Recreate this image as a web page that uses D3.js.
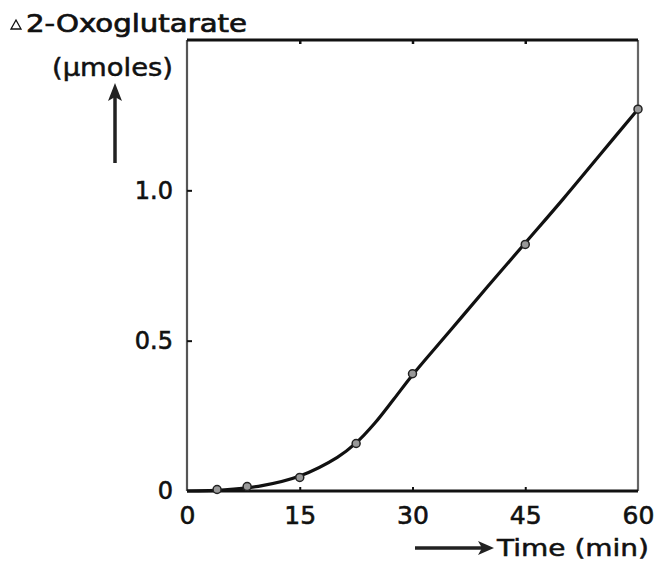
<!DOCTYPE html>
<html>
<head>
<meta charset="utf-8">
<script src="https://cdn.jsdelivr.net/npm/d3@7"></script>
<style>
  body { margin: 0; background: #fff; }
  text { font-family: "DejaVu Sans", sans-serif; fill: #111; }
</style>
</head>
<body>
<div id="chart"></div>
<script>
// measured points
const times = [4, 8, 15, 22.5, 30, 45, 60]
const oxo = [0.005, 0.015, 0.045, 0.158, 0.39, 0.82, 1.27]

// fitted curve drawn through the points
const fitTimes = [0, 5, 10, 15, 20, 22.5, 25, 27.5, 30, 35, 40, 45, 50, 55, 60]
const fitValues = [0, 0.004, 0.018, 0.05, 0.112, 0.16, 0.226, 0.305, 0.386, 0.533, 0.68, 0.825, 0.97, 1.12, 1.27]

// tick labels
const xTicks = [0, 15, 30, 45, 60]
const yTicks = [0, 0.5, 1.0]
const yTickLabels = ['0', '0.5', '1.0']

const svg_width = 655
const svg_height = 562
const margin = { top: 40, right: 17, bottom: 71, left: 187 }
const width = svg_width - margin.left - margin.right
const height = svg_height - margin.top - margin.bottom

const svg = d3.select('#chart').append('svg')
    .attr('width', svg_width).attr('height', svg_height)

const g = svg.append('g').attr('transform', `translate(${margin.left},${margin.top})`)

const x = d3.scaleLinear([0, 60], [0, width])
const y = d3.scaleLinear([0, 1.5], [height, 0])

// frame
g.append('line').attr('x1', 0).attr('x2', 0).attr('y1', 0).attr('y2', height)
    .attr('stroke', '#555').attr('stroke-width', 2.2)
g.append('line').attr('x1', width).attr('x2', width).attr('y1', 0).attr('y2', height)
    .attr('stroke', '#666').attr('stroke-width', 2.2)
g.append('line').attr('x1', 0).attr('x2', width).attr('y1', 0).attr('y2', 0)
    .attr('stroke', '#111').attr('stroke-width', 3)
g.append('line').attr('x1', 0).attr('x2', width).attr('y1', height).attr('y2', height)
    .attr('stroke', '#111').attr('stroke-width', 3)

// axes
const xAxis = d3.axisBottom(x).tickValues(xTicks).tickSize(-4).tickPadding(15)
    .tickFormat(d3.format('d'))
const xAxisDraw = g.append('g').attr('transform', `translate(0,${height})`).call(xAxis)
xAxisDraw.select('.domain').remove()
xAxisDraw.selectAll('.tick line').attr('stroke', '#111').attr('stroke-width', 2)
    .style('display', d => (d === 0 || d === 60) ? 'none' : null)
xAxisDraw.selectAll('text').attr('font-size', 25).attr('font-family', 'DejaVu Sans')
    .attr('fill', '#111').attr('stroke', '#111').attr('stroke-width', 0.6)

const topAxis = d3.axisTop(x).tickValues([15, 30, 45]).tickSize(-4).tickFormat('')
const topDraw = g.append('g').call(topAxis)
topDraw.select('.domain').remove()
topDraw.selectAll('.tick line').attr('stroke', '#111').attr('stroke-width', 2.5)

const yAxis = d3.axisLeft(y).tickValues(yTicks).tickSize(-5).tickPadding(14)
    .tickFormat((d, i) => yTickLabels[i])
const yAxisDraw = g.append('g').call(yAxis)
yAxisDraw.select('.domain').remove()
yAxisDraw.selectAll('.tick line').attr('stroke', '#111').attr('stroke-width', 2)
    .style('display', d => d === 0 ? 'none' : null)
yAxisDraw.selectAll('text').attr('font-size', 24).attr('font-family', 'DejaVu Sans')
    .attr('fill', '#111').attr('stroke', '#111').attr('stroke-width', 0.6)

// fitted curve
const fitData = fitTimes.map((t, i) => ({ t: t, v: fitValues[i] }))
const line = d3.line().x(d => x(d.t)).y(d => y(d.v)).curve(d3.curveCatmullRom.alpha(0.5))
g.append('path').datum(fitData).attr('d', line)
    .attr('fill', 'none').attr('stroke', '#111').attr('stroke-width', 3.2)

// points
const pts = times.map((t, i) => ({ t: t, v: oxo[i] }))
g.selectAll('.pt').data(pts).join('circle').attr('class', 'pt')
    .attr('cx', d => x(d.t)).attr('cy', d => y(d.v)).attr('r', 4)
    .attr('fill', '#999').attr('stroke', '#222').attr('stroke-width', 1.5)

// y title
svg.append('path').attr('d', 'M11,29 L16,20 L21,29 Z')
    .attr('fill', 'none').attr('stroke', '#111').attr('stroke-width', 1.3)
svg.append('text').attr('x', 26).attr('y', 32).attr('font-size', 24)
    .attr('stroke', '#111').attr('stroke-width', 0.7)
    .attr('textLength', 221).attr('lengthAdjust', 'spacingAndGlyphs').text('2-Oxoglutarate')
svg.append('text').attr('x', 52).attr('y', 76).attr('font-size', 24)
    .attr('stroke', '#111').attr('stroke-width', 0.5)
    .attr('textLength', 121).attr('lengthAdjust', 'spacingAndGlyphs').text('(μmoles)')

// up arrow
svg.append('line').attr('x1', 115).attr('x2', 115).attr('y1', 163).attr('y2', 95)
    .attr('stroke', '#222').attr('stroke-width', 3.5)
svg.append('path').attr('d', 'M115,83 L108,101 L115,97 L122,101 Z').attr('fill', '#222')

// x title
svg.append('line').attr('x1', 415).attr('x2', 482).attr('y1', 548).attr('y2', 548)
    .attr('stroke', '#222').attr('stroke-width', 3.5)
svg.append('path').attr('d', 'M494,548 L478,541 L482,548 L478,555 Z').attr('fill', '#222')
svg.append('text').attr('x', 497).attr('y', 556).attr('font-size', 23)
    .attr('stroke', '#111').attr('stroke-width', 0.5)
    .attr('textLength', 152).attr('lengthAdjust', 'spacingAndGlyphs').text('Time (min)')
</script>
</body>
</html>
